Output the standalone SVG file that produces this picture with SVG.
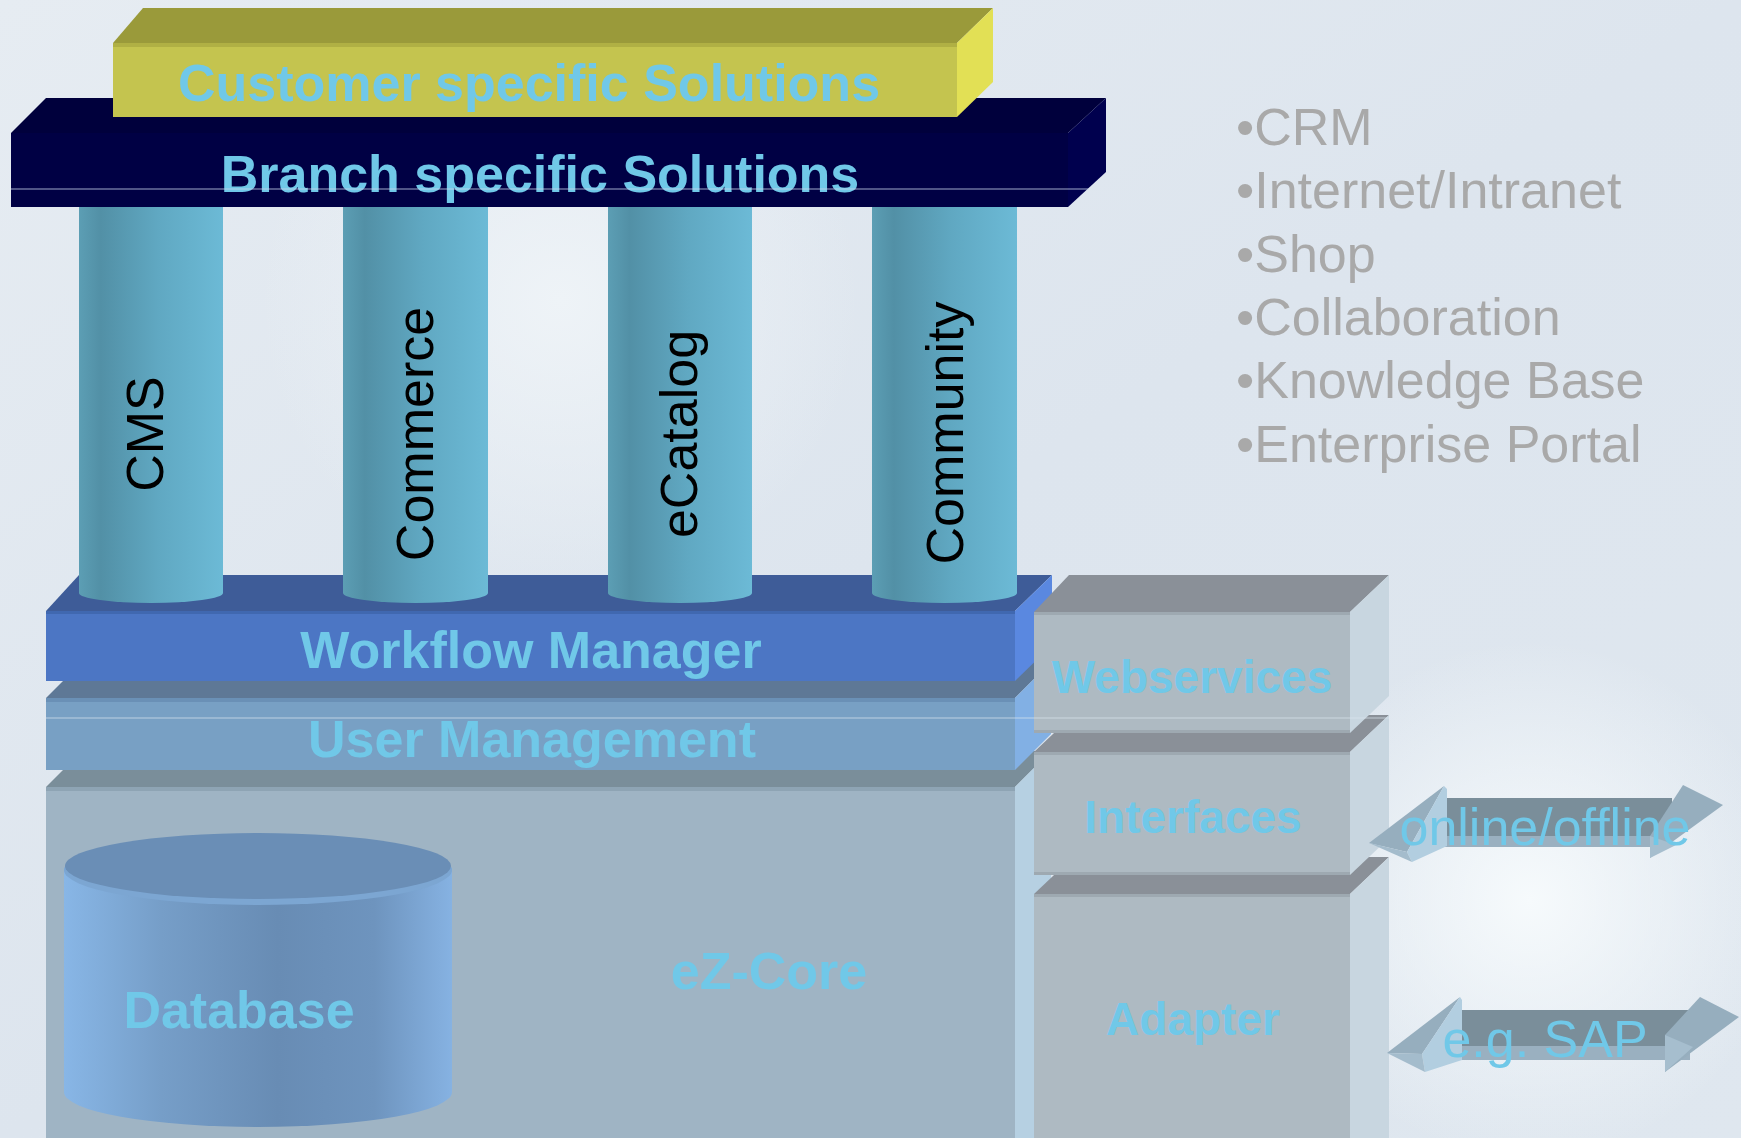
<svg xmlns="http://www.w3.org/2000/svg" width="1741" height="1138" viewBox="0 0 1741 1138">
<defs>
  <linearGradient id="bg" x1="0" y1="0" x2="1" y2="1">
    <stop offset="0" stop-color="#e6ecf2"/>
    <stop offset="0.5" stop-color="#dde5ee"/>
    <stop offset="1" stop-color="#dfe7ef"/>
  </linearGradient>
  <radialGradient id="glow" cx="1530" cy="900" r="260" gradientUnits="userSpaceOnUse">
    <stop offset="0" stop-color="#f6fafc" stop-opacity="1"/>
    <stop offset="1" stop-color="#f6fafc" stop-opacity="0"/>
  </radialGradient>
  <radialGradient id="glow2" cx="560" cy="300" r="300" gradientUnits="userSpaceOnUse">
    <stop offset="0" stop-color="#eef3f7" stop-opacity="1"/>
    <stop offset="1" stop-color="#eef3f7" stop-opacity="0"/>
  </radialGradient>
  <linearGradient id="pillar" x1="0" y1="0" x2="1" y2="0">
    <stop offset="0" stop-color="#5c9eb4"/>
    <stop offset="0.15" stop-color="#5290a6"/>
    <stop offset="0.55" stop-color="#60a8c2"/>
    <stop offset="1" stop-color="#6cbad6"/>
  </linearGradient>
  <linearGradient id="db" x1="0" y1="0" x2="1" y2="0">
    <stop offset="0" stop-color="#88b6e6"/>
    <stop offset="0.25" stop-color="#769ec8"/>
    <stop offset="0.55" stop-color="#688cb4"/>
    <stop offset="0.8" stop-color="#6e94be"/>
    <stop offset="1" stop-color="#86b2e2"/>
  </linearGradient>
  <style>
    .lbl { font-family: "Liberation Sans", Arial, sans-serif; font-weight: bold; fill: #70c8e8; text-anchor: middle; }
    .lbl2 { font-family: "Liberation Sans", Arial, sans-serif; fill: #70c8e8; text-anchor: middle; font-size: 52px; }
    .pil { font-family: "Liberation Sans", Arial, sans-serif; fill: #000000; text-anchor: middle; font-size: 52px; }
    .bul { font-family: "Liberation Sans", Arial, sans-serif; fill: #a9a9a9; font-size: 52px; }
    .gtop { fill: #8a9098; }
    .gfront { fill: #aebac2; }
    .gside { fill: #c8d6e0; }
    .shaft { fill: #7a8e9a; }
    .shaft2 { fill: #9ab0c0; }
    .head { fill: #96aebe; }
    .headl { fill: #b2cee0; }
  </style>
</defs>

<rect x="0" y="0" width="1741" height="1138" fill="url(#bg)"/>
<rect x="0" y="0" width="1741" height="1138" fill="url(#glow2)"/>
<rect x="0" y="0" width="1741" height="1138" fill="url(#glow)"/>

<!-- eZ-Core -->
<g id="ezcore">
  <polygon points="46,787 1015,787 1051,751 82,751" fill="#7a8e9a"/>
  <rect x="46" y="787" width="969" height="351" fill="#9fb4c4"/>
  <rect x="46" y="787" width="969" height="4" fill="#8ea4b4"/>
  <polygon points="1015,787 1051,751 1051,1138 1015,1138" fill="#b6d0e2"/>
  <text class="lbl" x="769" y="989" font-size="52">eZ-Core</text>
</g>

<!-- Database -->
<g id="database">
  <path d="M64,868 L64,1092 A194,35 0 0 0 452,1092 L452,868 Z" fill="url(#db)"/>
  <ellipse cx="258" cy="870" rx="194" ry="35" fill="#7ca6d2"/>
  <ellipse cx="258" cy="866" rx="193" ry="33" fill="#6a8eb6"/>
  <text class="lbl" x="239" y="1028" font-size="52">Database</text>
</g>

<!-- User Management -->
<g id="usermgmt">
  <polygon points="46,698 1015,698 1051,662 82,662" fill="#5e7896"/>
  <rect x="46" y="698" width="969" height="72" fill="#78a0c4"/>
  <rect x="46" y="698" width="969" height="4" fill="#6a90b6"/>
  <polygon points="1015,698 1051,662 1051,734 1015,770" fill="#82b0e4"/>
  <text class="lbl" x="532" y="757" font-size="52">User Management</text>
</g>

<!-- Workflow Manager -->
<g id="workflow">
  <polygon points="46,611 1015,611 1052,575 79,575" fill="#3e5c98"/>
  <rect x="46" y="611" width="969" height="70" fill="#4c76c4"/>
  <rect x="46" y="611" width="969" height="3" fill="#4068b0"/>
  <polygon points="1015,611 1052,575 1052,645 1015,681" fill="#5a88e0"/>
  <text class="lbl" x="531" y="668" font-size="52">Workflow Manager</text>
</g>

<!-- Pillars -->
<g id="pillar-cms">
  <path d="M79,207 L223,207 L223,593 A72,10 0 0 1 79,593 Z" fill="url(#pillar)"/>
  <text class="pil" transform="translate(163,434) rotate(-90)">CMS</text>
</g>
<g id="pillar-commerce">
  <path d="M343,207 L488,207 L488,593 A72.5,10 0 0 1 343,593 Z" fill="url(#pillar)"/>
  <text class="pil" transform="translate(433,434) rotate(-90)">Commerce</text>
</g>
<g id="pillar-ecatalog">
  <path d="M608,207 L752,207 L752,593 A72,10 0 0 1 608,593 Z" fill="url(#pillar)"/>
  <text class="pil" transform="translate(697,434) rotate(-90)">eCatalog</text>
</g>
<g id="pillar-community">
  <path d="M872,207 L1017,207 L1017,593 A72.5,10 0 0 1 872,593 Z" fill="url(#pillar)"/>
  <text class="pil" transform="translate(963,433) rotate(-90)">Community</text>
</g>

<!-- Branch specific Solutions -->
<g id="branch">
  <polygon points="11,133 1068,133 1106,98 46,98" fill="#00003c"/>
  <rect x="11" y="133" width="1057" height="74" fill="#000044"/>
  <polygon points="1068,133 1106,98 1106,172 1068,207" fill="#00004e"/>
  <text class="lbl" x="540" y="192" font-size="52">Branch specific Solutions</text>
  <line x1="11" y1="189" x2="1089" y2="189" stroke="#c8d4ec" stroke-width="1.2" stroke-opacity="0.8"/>
</g>

<!-- Customer specific Solutions -->
<g id="customer">
  <polygon points="113,43 957,43 993,8 143,8" fill="#9a9a3a"/>
  <rect x="113" y="43" width="844" height="74" fill="#c4c44f"/>
  <rect x="113" y="43" width="844" height="4" fill="#b0b044"/>
  <polygon points="957,43 993,8 993,82 957,117" fill="#e2e055"/>
  <text class="lbl" x="529" y="101" font-size="52">Customer specific Solutions</text>
</g>

<!-- Adapter -->
<g id="adapter">
  <polygon class="gtop" points="1034,894 1350,894 1389,857 1073,857"/>
  <rect class="gfront" x="1034" y="894" width="316" height="244"/>
  <rect x="1034" y="894" width="316" height="3" fill="#9ea9b1"/>
  <polygon class="gside" points="1350,894 1389,857 1389,1138 1350,1138"/>
  <text class="lbl" x="1193" y="1035" font-size="46">Adapter</text>
</g>

<!-- Interfaces -->
<g id="interfaces">
  <polygon class="gtop" points="1034,752 1350,752 1389,715 1073,715"/>
  <rect class="gfront" x="1034" y="752" width="316" height="123"/>
  <rect x="1034" y="752" width="316" height="3" fill="#9ea9b1"/>
  <rect x="1034" y="872" width="316" height="3" fill="#9ea9b1"/>
  <polygon class="gside" points="1350,752 1389,715 1389,838 1350,875"/>
  <text class="lbl" x="1193" y="833" font-size="46">Interfaces</text>
</g>

<!-- Webservices -->
<g id="webservices">
  <polygon class="gtop" points="1034,612 1350,612 1389,575 1069,575"/>
  <rect class="gfront" x="1034" y="612" width="316" height="121"/>
  <rect x="1034" y="612" width="316" height="3" fill="#9ea9b1"/>
  <rect x="1034" y="730" width="316" height="3" fill="#9ea9b1"/>
  <polygon class="gside" points="1350,612 1389,575 1389,696 1350,733"/>
  <text class="lbl" x="1192" y="693" font-size="46">Webservices</text>
</g>

<line x1="46" y1="718" x2="1389" y2="718" stroke="#dce6f0" stroke-width="1.2" stroke-opacity="0.7"/>

<!-- Connectors (3D double arrows) -->
<g id="connectors">
  <g id="arrow-online">
    <rect class="shaft" x="1437" y="798" width="235" height="38"/>
    <rect class="shaft2" x="1437" y="836" width="235" height="11"/>
    <polygon class="head" points="1369,843 1444,786 1407,852"/>
    <polygon class="headl" points="1407,852 1444,786 1447,789 1447,846 1412,862"/>
    <polygon points="1369,843 1407,852 1412,862" fill="#a4bccc"/>
    <polygon class="head" points="1650,836 1683,785 1723,805 1650,858"/>
    <polygon points="1650,836 1676,845 1650,858" fill="#a6bece"/>
  </g>
  <g id="arrow-sap">
    <rect class="shaft" x="1460" y="1010" width="230" height="36"/>
    <rect class="shaft2" x="1460" y="1046" width="230" height="14"/>
    <polygon class="head" points="1387,1053 1460,997 1422,1054"/>
    <polygon class="headl" points="1422,1054 1460,997 1462,1000 1462,1060 1425,1072"/>
    <polygon points="1387,1053 1422,1054 1425,1072" fill="#a4bccc"/>
    <polygon class="head" points="1665,1035 1700,997 1739,1017 1665,1072"/>
    <polygon points="1665,1035 1693,1047 1665,1072" fill="#a6bece"/>
  </g>
</g>

<g id="label-online">
  <text class="lbl2" x="1545" y="845">online/offline</text>
</g>
<g id="label-sap">
  <text class="lbl2" x="1545" y="1057">e.g. SAP</text>
</g>

<!-- Bullet list -->
<g id="bullets">
  <text class="bul" x="1236" y="145">•CRM</text>
  <text class="bul" x="1236" y="208">•Internet/Intranet</text>
  <text class="bul" x="1236" y="272">•Shop</text>
  <text class="bul" x="1236" y="335">•Collaboration</text>
  <text class="bul" x="1236" y="398">•Knowledge Base</text>
  <text class="bul" x="1236" y="462">•Enterprise Portal</text>
</g>
</svg>
